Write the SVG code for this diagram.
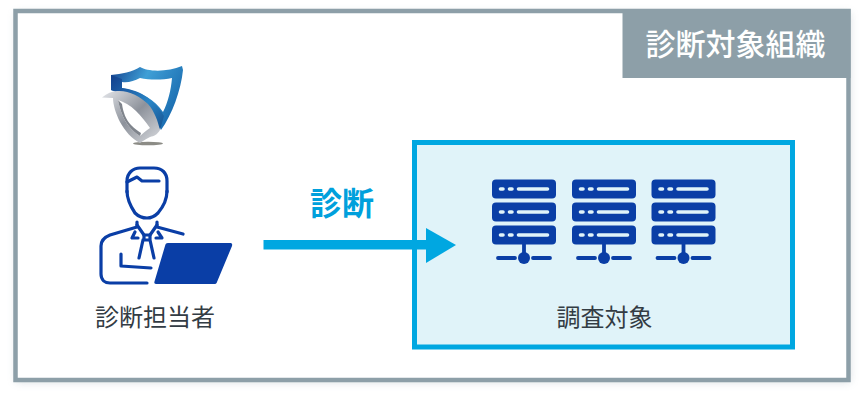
<svg xmlns="http://www.w3.org/2000/svg" width="865" height="401" viewBox="0 0 865 401">
<style>
text{font-family:"Noto Sans CJK JP","Noto Sans",sans-serif;text-anchor:middle}
.lbl{font-size:24px;fill:#333c44}
.ln{fill:none;stroke:#0a3ea6;stroke-width:3.200;stroke-linecap:round;stroke-linejoin:round}
.srv{fill:#0a3ea6}
.w{stroke:#e0f3f9;stroke-width:3.600;stroke-linecap:round;fill:none}
.b{stroke:#0a3ea6;stroke-width:3.800;stroke-linecap:round;fill:none}
</style>
<defs>
<filter id="sh" x="-5%" y="-5%" width="110%" height="112%"><feGaussianBlur stdDeviation="4"/></filter>
<linearGradient id="sb" x1="0" y1="0" x2="1" y2="0.5"><stop offset="0" stop-color="#123f8c"/><stop offset="0.45" stop-color="#3f9fd6"/><stop offset="1" stop-color="#1a6cb0"/></linearGradient>
<linearGradient id="sd" x1="0" y1="0" x2="1" y2="1"><stop offset="0" stop-color="#123f8c"/><stop offset="0.6" stop-color="#2a86c6"/><stop offset="1" stop-color="#15508f"/></linearGradient>
<linearGradient id="sg" x1="0" y1="0" x2="1" y2="1"><stop offset="0" stop-color="#e4e6ea"/><stop offset="0.5" stop-color="#8d929b"/><stop offset="1" stop-color="#d8dade"/></linearGradient>
<g id="server">
<rect x="0" y="0" width="64" height="19" rx="4" class="srv"/>
<rect x="0" y="23" width="64" height="19" rx="4" class="srv"/>
<rect x="0" y="46" width="64" height="19" rx="4" class="srv"/>
<path class="w" d="M8.500 9.500h2.500M17.500 9.500h2.500M26.500 9.500h29M8.500 32.500h2.500M17.500 32.500h2.500M26.500 32.500h29M8.500 55.500h2.500M17.500 55.500h2.500M26.500 55.500h29"/>
<path class="b" d="M32 63v12M6 78.500h17M41 78.500h17"/>
<circle cx="32" cy="78.500" r="6" class="srv"/>
</g>
</defs>
<g id="frame">
<rect x="16" y="13" width="834" height="369" fill="#8a9ca6" opacity="0.35" filter="url(#sh)"/>
<rect x="15.500" y="11" width="833" height="369" fill="#fff" stroke="#8d9fa8" stroke-width="4.500"/>
<rect x="622.500" y="9" width="228" height="69" fill="#8d9fa8"/>
<text x="735.500" y="54.500" font-size="30" font-weight="500" fill="#fff">診断対象組織</text>
</g>
<g id="target">
<rect x="414.500" y="142.500" width="378" height="204.500" fill="#e0f3f9" stroke="#00a7e1" stroke-width="5"/>
<use href="#server" x="492" y="179.500"/>
<use href="#server" x="572" y="179.500"/>
<use href="#server" x="651.500" y="179.500"/>
<text x="604.500" y="326" class="lbl">調査対象</text>
</g>
<g id="connectors">
<rect x="263.500" y="240" width="164" height="9.500" fill="#00a7e1"/>
<path d="M426 228L456 245L426 263Z" fill="#00a7e1"/>
<text x="342" y="215" font-size="32" font-weight="700" fill="#00a0dc">診断</text>
</g>
<g id="shield">
<ellipse cx="148" cy="143.500" rx="15" ry="1.800" fill="#6f6f68" opacity="0.8"/>
<path d="M111 75C122 74 132 72 140 67C148 72 168 72 182 66L183 70C181 90 172 115 161 130C158 120 150 108 137 100L111 90Z" fill="url(#sb)"/>
<path d="M122 82C128 83 134 81 140 78C150 80 162 80 172 78C171 90 168 102 163 112C155 100 142 92 122 88Z" fill="#fff"/>
<path d="M111 75L122 79V88C142 90 156 102 164 116L160 130C152 112 135 96 111 90Z" fill="url(#sd)"/>
<path d="M102 97.500C107 93.500 112 91 117 91C128 90 140 96 148 104C155 112 158 122 160 130C157 135 154 136 150 137C146 139 143 141 140 143C132 139 125 131 120 122C116 114 113 105 113 98Z" fill="url(#sg)"/>
<path d="M118 100C124 102 130 105 136 111C141 116 145 121 150 128C146 131 143 133 140 136C132 131 125 123 122 114C120 109 119 105 118 100Z" fill="#fff"/>
<path d="M118 100L122 104C123 112 126 120 131 125C135 129 138 131 141 133L140 136C132 131 125 123 122 114C120 109 119 105 118 100Z" fill="#7f848c"/>
</g>
<g id="person">
<path class="ln" d="M127 192V181C127 173 133 168 140 168H154C162 168 167 173 167 181V192"/>
<path class="ln" d="M127 191C127 199 131 207 135 213C138 216 142 218 147 218C152 218 155 216 158 213C163 207 167 199 167 191"/>
<path class="ln" d="M127 182L137 177L142 181H159"/>
<path class="ln" d="M137 222V227L110 235C105 237 101 240 101 246V274C101 280 105 283 110 283H147M157 222V227L183 234"/>
<path class="ln" d="M137 225L144 235M135 232L132 238H138M157 225L150 235M158 232L162 238H156"/>
<path class="ln" d="M144 235H150V240H144ZM143 240L139 258M150 240L154 258"/>
<path class="ln" d="M121 254V266L151 268"/>
<path d="M168 243H230C232 243 232.500 244 232 246L217 282C216.500 283.500 216 284 214 284H156C154.500 284 154 283 154.500 281.500L165 246C165.500 244 166 243 168 243Z" fill="#0a3ea6"/>
<text x="155" y="326" class="lbl">診断担当者</text>
</g>
</svg>
